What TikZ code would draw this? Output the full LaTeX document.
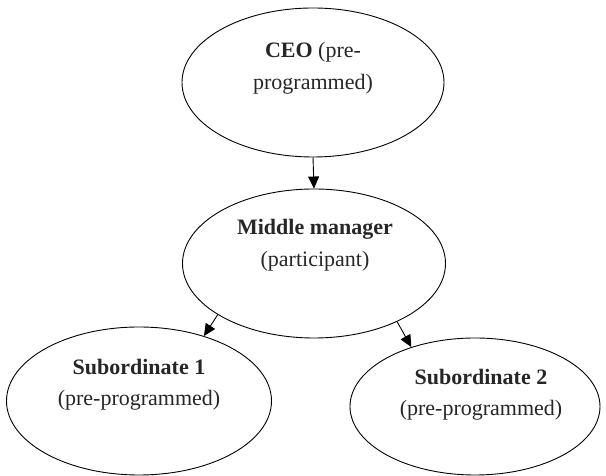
\documentclass[tikz,border=0pt]{standalone}
\usepackage{fontspec}
\setmainfont{Liberation Serif}
\usetikzlibrary{shapes.geometric,arrows.meta}
\tikzset{
  oval/.style={ellipse, draw=black, line width=0.9pt, inner sep=0pt},
  lbl/.style={anchor=base, inner sep=0pt, text=black!85, font=\fontsize{22}{26}\selectfont},
  conn/.style={-{Triangle[length=12pt,width=11pt]}, line width=0.9pt, shorten >=0pt}
}
\begin{document}
\begin{tikzpicture}[x=1pt,y=1pt]
\useasboundingbox (0,0) rectangle (606,476);
% ellipses (y = 476 - pixel y)
\node[oval, minimum width=262pt, minimum height=149pt] (ceo) at (313,393.5) {};
\node[oval, minimum width=263pt, minimum height=149pt] (mid) at (314,212.5) {};
\node[oval, minimum width=265pt, minimum height=148pt] (s1) at (139,75) {};
\node[oval, minimum width=250pt, minimum height=137pt] (s2) at (475,69.5) {};
% texts
\node[lbl] (ceoA) at (313,476-58) {\textbf{CEO} (pre-};
\node[lbl] (ceoB) at (313,476-90) {programmed)};
\node[lbl] (midA) at (315,476-235) {\textbf{Middle manager}};
\node[lbl] (midB) at (315,476-267) {(participant)};
\node[lbl] (s1A) at (139,476-375) {\textbf{Subordinate 1}};
\node[lbl] (s1B) at (139,476-406) {(pre-programmed)};
\node[lbl] (s2A) at (481,476-385) {\textbf{Subordinate 2}};
\node[lbl] (s2B) at (481,476-416) {(pre-programmed)};
% connectors
\draw[conn] (ceo.south) -- (mid.north);
\draw[conn] (mid.208.5) -- (s1.45);
\draw[conn] (mid.-35) -- (s2.137);
\end{tikzpicture}
\end{document}
